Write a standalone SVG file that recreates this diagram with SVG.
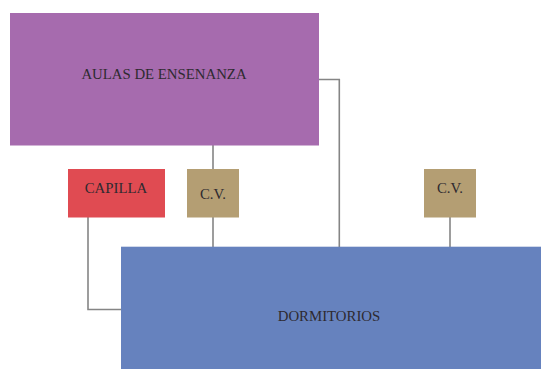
<svg xmlns="http://www.w3.org/2000/svg" width="541" height="369" viewBox="0 0 541 369">
<style>
.lbl{font-family:"Liberation Serif","DejaVu Serif",serif;font-size:14.8px;fill:#2e2a30;text-anchor:middle}
.con{fill:none;stroke:#858585;stroke-width:1.6}
</style>
<rect width="541" height="369" fill="#fff"/>
<g id="connectors">
<polyline class="con" points="319,79.5 339.3,79.5 339.3,247"/>
<line class="con" x1="213" y1="145" x2="213" y2="169"/>
<line class="con" x1="213" y1="217" x2="213" y2="247"/>
<line class="con" x1="450" y1="217" x2="450" y2="247"/>
<polyline class="con" points="88,217 88,309.5 121,309.5"/>
</g>
<g id="aulas"><rect x="10" y="13" width="309" height="132.5" fill="#A66BAE"/><text class="lbl" x="164" y="79">AULAS DE ENSENANZA</text></g>
<g id="capilla"><rect x="68" y="169" width="97" height="48.5" fill="#E04B52"/><text class="lbl" x="116" y="193">CAPILLA</text></g>
<g id="cv1"><rect x="187" y="169" width="52" height="48.5" fill="#B49E73"/><text class="lbl" x="213" y="199">C.V.</text></g>
<g id="cv2"><rect x="424" y="169" width="52" height="48.5" fill="#B49E73"/><text class="lbl" x="450" y="193">C.V.</text></g>
<g id="dormitorios"><rect x="121" y="246.7" width="420" height="122.3" fill="#6682BE"/><text class="lbl" x="329" y="321">DORMITORIOS</text></g>
</svg>
